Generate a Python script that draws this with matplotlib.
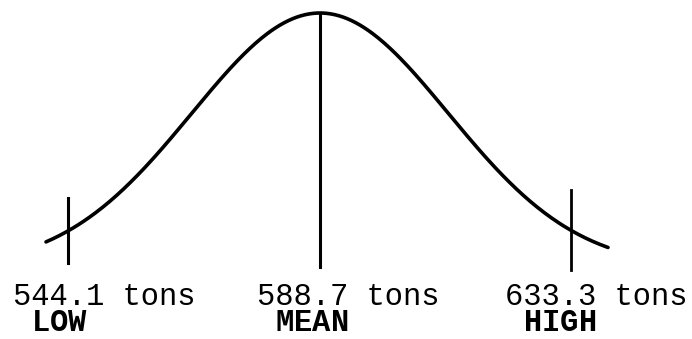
import numpy as np
import matplotlib
matplotlib.use("Agg")
import matplotlib.pyplot as plt

plt.rcParams["mathtext.fontset"] = "custom"
plt.rcParams["mathtext.rm"] = "Liberation Mono"
plt.rcParams["mathtext.bf"] = "Liberation Mono:bold"

# ---- data ----
values = [544.1, 588.7, 633.3]          # tons
labels = ["LOW", "MEAN", "HIGH"]
mean_val = 588.7
sigma_val = (633.3 - 588.7) / 1.96      # LOW/HIGH shown at +/-1.96 sigma

W, H, DPI = 692, 339, 100
fig = plt.figure(figsize=(W / DPI, H / DPI), dpi=DPI)
ax = fig.add_axes([0, 0, 1, 1])
ax.set_axis_off()

# pixel geometry -> data limits
px_per_ton = 251.5 / 44.6
mean_px = 320
ax.set_xlim(mean_val - mean_px / px_per_ton, mean_val + (W - mean_px) / px_per_ton)
base_px, peak_px = 268, 13
amp = base_px - peak_px
ax.set_ylim((base_px - H) / amp, base_px / amp)

# normal curve
x = np.linspace(mean_val - 274 / px_per_ton, mean_val + 288 / px_per_ton, 400)
y = np.exp(-0.5 * ((x - mean_val) / sigma_val) ** 2)
ax.plot(x, y, color="black", lw=2.6, solid_capstyle="round")

# vertical markers
ax.plot([values[0]] * 2, [(base_px - 198) / amp, (base_px - 263) / amp], color="black", lw=2.2)
ax.plot([values[1]] * 2, [(base_px - 14) / amp, (base_px - 267) / amp], color="black", lw=2.2)
ax.plot([values[2]] * 2, [(base_px - 190) / amp, (base_px - 270) / amp], color="black", lw=2.0)

mono = ["Liberation Mono", "DejaVu Sans Mono"]
val_x = [13 / W, 257 / W, 505 / W]
for v, lab, vx in zip(values, labels, val_x):
    txt = f"{v:.1f} tons\n $\\mathbf{{{lab}}}$"
    ax.text(vx, 1 - 331 / H, txt, transform=ax.transAxes,
            ha="left", va="baseline", multialignment="left",
            fontsize=22, family=mono, color="black", linespacing=0.84)

fig.savefig("out.png", dpi=DPI)
